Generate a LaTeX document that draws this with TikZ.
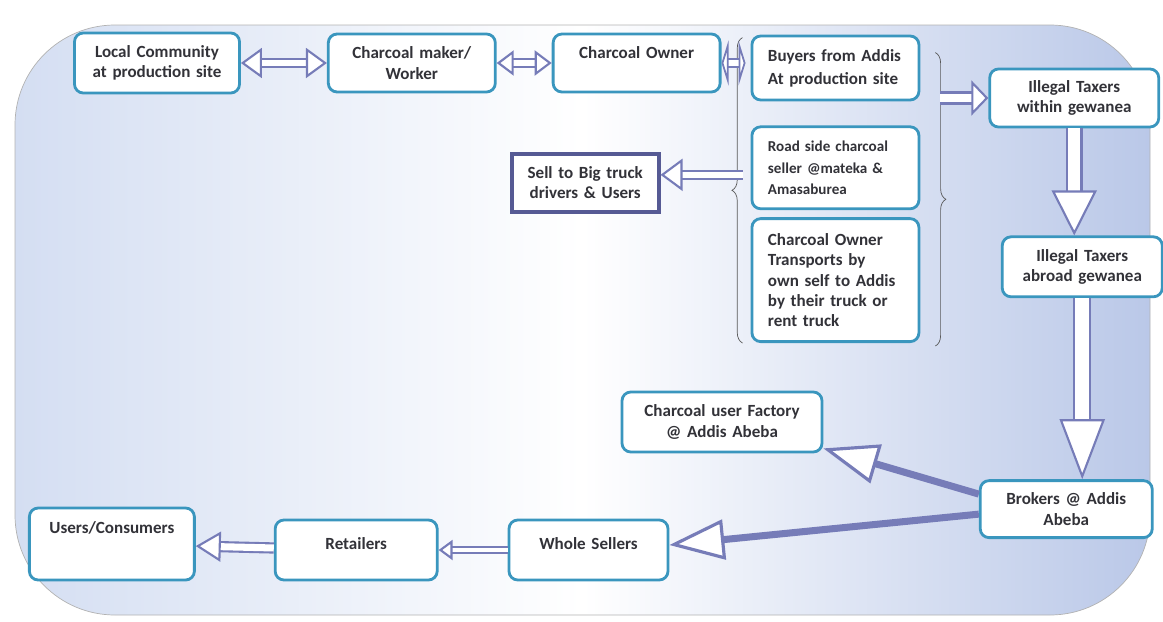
\documentclass[tikz,border=0pt]{standalone}
\usepackage{fontspec}
\setmainfont{Carlito}
\usetikzlibrary{shapes,arrows.meta,positioning,decorations.pathreplacing}
\definecolor{boxblue}{RGB}{58,150,190}
\definecolor{arrowblue}{RGB}{118,124,184}
\definecolor{darkbox}{RGB}{86,90,148}
\definecolor{bgleft}{RGB}{212,222,242}
\definecolor{bgright}{RGB}{186,200,232}
\definecolor{txt}{RGB}{50,50,56}

\begin{document}
\begin{tikzpicture}[
                  font=\fontsize{9.7}{11.5}\selectfont\bfseries,
                  block/.style={rectangle, draw=boxblue, line width=1.6pt, fill=white, rounded corners=5pt, text=txt, text width=2.9cm, align=center, minimum width=3.3cm, minimum height=1.2cm},
                  leftblock/.style={block, align=left, inner xsep=0.3cm, text width=2.7cm, minimum width=3.34cm},
                  plainbox/.style={rectangle, draw=darkbox, line width=2pt, fill=white, text=txt, text width=2.6cm, align=center, minimum width=2.94cm, minimum height=1.16cm},
                  line/.style={draw=arrowblue, double=white, double distance=3.5pt, line width=1.2pt},
                  arr/.style 2 args={line, -{Triangle[fill=white, line width=1.2pt, length=#1, width=#2]}},
                  darr/.style 2 args={line, {Triangle[fill=white, line width=1.2pt, length=#1, width=#2]}-{Triangle[fill=white, line width=1.2pt, length=#1, width=#2]}},
                  fat/.style={draw=arrowblue, line width=4pt, -{Triangle[fill=white, length=1.1cm, width=0.8cm, line width=1.8pt]}},
                  brace/.style={draw=gray!70!black, thin, decorate, decoration={brace, amplitude=6pt}}
            ]

            % Background
            \useasboundingbox (0,0) rectangle (23.26,-12.44);
            \shadedraw [draw=gray!60, rounded corners=2cm, left color=bgleft, right color=bgright, middle color=white] (0.3,-0.5) rectangle (23.0,-12.3);

            % Nodes
            \node [block] (local) at (3.14,-1.26) {Local Community\\ at production site};
            \node [block, right=1.72cm of local, minimum width=3.34cm, minimum height=1.16cm] (maker) {Charcoal maker/\\ Worker};
            \node [block, right=1.1cm of maker, minimum width=3.34cm, minimum height=1.16cm] (owner) {Charcoal Owner\\ \mbox{}};
            \node [leftblock, right=0.58cm of owner.north east, anchor=north west, yshift=-0.04cm, minimum height=1.28cm, font=\fontsize{9.7}{13}\selectfont\bfseries] (buyers) {Buyers from Addis\\ At production site};
            \node [leftblock, below=0.48cm of buyers, minimum height=1.64cm, font=\fontsize{8.6}{12}\selectfont\bfseries] (roadside) {Road side charcoal\\ seller @mateka \&\\ Amasaburea};
            \node [leftblock, below=0.14cm of roadside, minimum height=2.46cm] (transports) {Charcoal Owner\\ Transports by\\ own self to Addis\\ by their truck or\\ rent truck};
            \node [plainbox, left=1.8cm of roadside, yshift=-0.3cm] (bigtruck) {Sell to Big truck\\ drivers \& Users};
            \node [block, right=1.36cm of buyers, yshift=-0.6cm, minimum width=3.38cm, minimum height=1.16cm] (within) {Illegal Taxers\\ within gewanea};
            \node [block, below=2.14cm of within, xshift=0.16cm, minimum width=3.2cm] (abroad) {Illegal Taxers\\ abroad gewanea};
            \node [block, below=3.62cm of abroad, xshift=-0.32cm, minimum width=3.44cm, minimum height=1.14cm] (brokers) {Brokers @ Addis\\ Abeba};
            \node [block, minimum width=4cm, text width=3.6cm] (factory) at (14.44,-8.44) {Charcoal user Factory\\ @ Addis Abeba};
            \node [block, minimum width=3.18cm] (whole) at (11.77,-11.0) {Whole Sellers\\[-4pt]\mbox{}};
            \node [block, left=1.38cm of whole, minimum width=3.24cm] (retailers) {Retailers\\[-4pt]\mbox{}};
            \node [block, left=1.56cm of retailers, yshift=0.12cm, minimum width=3.3cm, minimum height=1.44cm] (users) {Users/Consumers\\[7pt]\mbox{}};

            % Braces
            \coordinate (lbtop) at ([xshift=-0.16cm, yshift=-0.06cm]buyers.north west);
            \coordinate (lbbot) at ([xshift=-0.16cm]transports.south west);
            \coordinate (rbtop) at ([xshift=0.3cm, yshift=-0.36cm]buyers.north east);
            \coordinate (rbbot) at ([xshift=0.3cm, yshift=-0.06cm]transports.south east);
            \coordinate (lbarr) at ([yshift=0.16cm]lbtop |- bigtruck.east);
            \coordinate (rbarr) at ([xshift=0.1cm]rbtop |- within.west);
            \draw [brace] (lbbot) -- (lbtop);
            \draw [brace] (rbtop) -- (rbbot);

            % Edges
            \path [darr={0.42cm}{0.6cm}] (local) -- (maker);
            \path [darr={0.34cm}{0.5cm}] (maker) -- (owner);
            \path [darr={0.14cm}{0.9cm}, double distance=3pt] (owner) -- ([xshift=0.06cm]owner -| lbtop);
            \path [arr={0.44cm}{0.64cm}] (lbarr) -- (lbarr -| bigtruck.east);
            \path [arr={0.34cm}{0.7cm}, double distance=4.5pt, line width=1.5pt] (rbarr) -- (rbarr -| within.west);
            \path [arr={0.9cm}{0.9cm}, double distance=7pt] (within) -- (within |- abroad.north);
            \path [arr={1.2cm}{0.9cm}, double distance=8pt] (abroad) -- (abroad |- brokers.north);
            \path [fat] ([yshift=0.3cm]brokers.west) -- ([yshift=0.1cm]factory.south east);
            \path [fat] ([yshift=-0.1cm]brokers.west) -- ([yshift=0.1cm]whole.east);
            \path [arr={0.28cm}{0.4cm}, double distance=2.5pt] (whole) -- (retailers);
            \path [arr={0.5cm}{0.6cm}, double distance=4pt] (retailers) -- (users);
      \end{tikzpicture}
\end{document}
